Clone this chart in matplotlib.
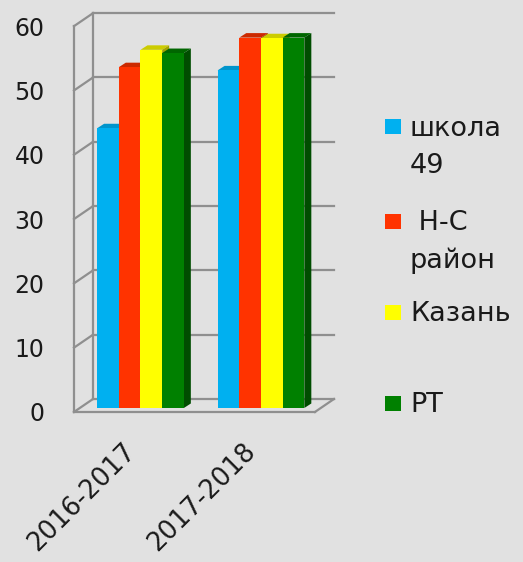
import numpy as np
import matplotlib.pyplot as plt
from matplotlib.patches import Polygon, Rectangle

plt.rcParams['font.family'] = ['DejaVu Sans']

# data
years = ['2016-2017', '2017-2018']
series_names = ['школа\n49', ' Н-С\nрайон', 'Казань', 'РТ']
school49 = [43.5, 52.5]
ns_district = [53.0, 57.6]
kazan = [55.7, 57.5]
rt = [55.2, 57.6]
all_series = [school49, ns_district, kazan, rt]

colors = ['#00b0f0', '#ff3300', '#ffff00', '#008000']
top_colors = ['#0095cc', '#cc2900', '#cccc00', '#006600']
side_colors = ['#0077a3', '#a32100', '#a3a300', '#004d00']

W, H = 523, 562
fig = plt.figure(figsize=(W / 100, H / 100), dpi=100, facecolor='#e1e1e1')
ax = fig.add_axes([60 / W, 1 - 415 / H, (340 - 60) / W, (415 - 5) / H])
ax.set_xlim(-0.668, 1.656)
ax.set_ylim(-1.09, 62.67)
ax.set_facecolor('none')
for s in ax.spines.values():
    s.set_visible(False)

# fake 3d box (oblique)
floor_v = -0.62
ddx, ddy = 0.158, 2.02
x_front, x_right = -0.552, 1.448
wall = '#8f8f8f'
ticks = np.arange(0, 61, 10)
for t in ticks:
    ax.plot([x_front + ddx, x_right + ddx], [t + floor_v + ddy] * 2, color=wall, lw=1.6, zorder=1)
    ax.plot([x_front, x_front + ddx], [t + floor_v, t + floor_v + ddy], color=wall, lw=1.6, zorder=1)
ax.plot([x_front, x_front], [floor_v, 60 + floor_v], color=wall, lw=1.6, zorder=1)
ax.plot([x_front + ddx] * 2, [floor_v + ddy, 60 + floor_v + ddy], color=wall, lw=1.6, zorder=1)
ax.plot([x_front, x_right], [floor_v, floor_v], color=wall, lw=1.6, zorder=1)
ax.plot([x_right, x_right + ddx], [floor_v, floor_v + ddy], color=wall, lw=1.6, zorder=1)

# bars
bar_w = 0.18
offsets = (np.arange(4) - 1.5) * bar_w
bdx, bdy = 0.058, 0.7
z = 2
for i in range(len(years)):
    for j, vals in enumerate(all_series):
        v = vals[i]
        x0 = i + offsets[j] - bar_w / 2
        x1 = x0 + bar_w
        ax.add_patch(Polygon([(x0, v), (x1, v), (x1 + bdx, v + bdy), (x0 + bdx, v + bdy)],
                             closed=True, facecolor=top_colors[j], edgecolor='none', zorder=z))
        ax.add_patch(Polygon([(x1, 0), (x1 + bdx, bdy), (x1 + bdx, v + bdy), (x1, v)],
                             closed=True, facecolor=side_colors[j], edgecolor='none', zorder=z))
        ax.bar(i + offsets[j], v, width=bar_w, color=colors[j], zorder=z + 0.5)
        z += 1

ax.set_yticks(ticks + floor_v, [str(t) for t in ticks], fontsize=17, color='#1a1a1a')
ax.set_xticks(range(len(years)), years, fontsize=18.5, color='#1a1a1a', rotation=45, ha='right')
ax.tick_params(axis='y', length=0, pad=11)
ax.tick_params(axis='x', length=0, pad=17)

# legend (first-line baselines in pixels from top)
baselines = [135, 230, 321, 412]
line_gap = 38
for name, c, b in zip(series_names, colors, baselines):
    n_lines = name.count('\n') + 1
    fig.patches.append(Rectangle((385 / W, 1 - (b - 1) / H), 16 / W, 15 / H,
                                 transform=fig.transFigure, facecolor=c, edgecolor='none'))
    fig.text(410 / W, 1 - (b + line_gap * (n_lines - 1)) / H, name, fontsize=19.5,
             color='#1a1a1a', va='baseline', ha='left', linespacing=1.55)

fig.savefig('out.png', dpi=100, facecolor=fig.get_facecolor())
